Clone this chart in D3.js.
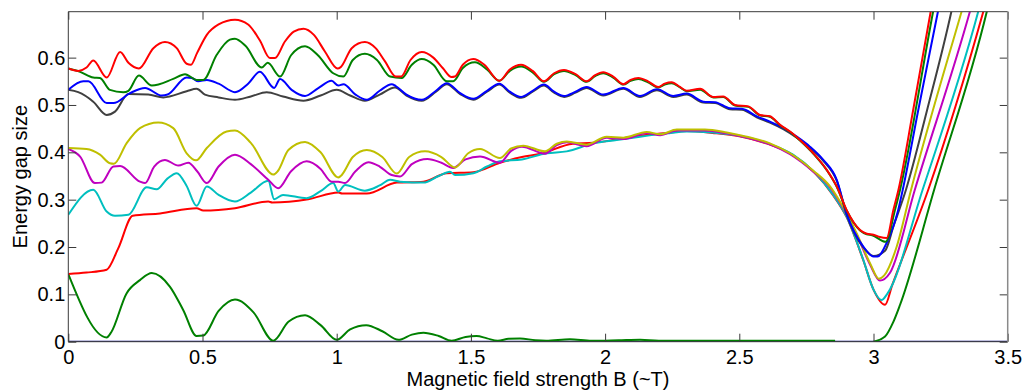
<!DOCTYPE html>
<html><head><meta charset="utf-8">
<script src="https://cdn.jsdelivr.net/npm/d3@7"></script>
<style>
html,body{margin:0;padding:0;background:#fff;}
svg{display:block;}
text{font-family:"Liberation Sans",Arial,sans-serif;}
</style></head>
<body>
<svg id="chart" width="1025" height="392"></svg>
<script>
// ---------- data ----------
const xTicks = [0, 0.5, 1, 1.5, 2, 2.5, 3, 3.5];
const xTickLabels = ["0", "0.5", "1", "1.5", "2", "2.5", "3", "3.5"];
const yTicks = [0, 0.1, 0.2, 0.3, 0.4, 0.5, 0.6];
const yTickLabels = ["0", "0.1", "0.2", "0.3", "0.4", "0.5", "0.6"];
const xLabel = "Magnetic field strength B (~T)";
const yLabel = "Energy gap size";

const redUpper = [[0,0.577],[0.037,0.572],[0.068,0.579],[0.093,0.594],[0.143,0.558],[0.193,0.612],[0.224,0.589],[0.263,0.577],[0.317,0.620],[0.36,0.633],[0.404,0.620],[0.441,0.587],[0.457,0.585],[0.48,0.61],[0.516,0.648],[0.56,0.670],[0.621,0.680],[0.67,0.670],[0.714,0.636],[0.751,0.599],[0.77,0.599],[0.807,0.634],[0.84,0.655],[0.876,0.661],[0.915,0.648],[0.956,0.613],[1.003,0.577],[1.015,0.58],[1.056,0.620],[1.105,0.633],[1.145,0.62],[1.18,0.592],[1.22,0.560],[1.24,0.560],[1.275,0.595],[1.317,0.612],[1.36,0.60],[1.395,0.578],[1.428,0.559],[1.44,0.560],[1.47,0.585],[1.509,0.597],[1.55,0.585],[1.606,0.551],[1.645,0.575],[1.687,0.585],[1.73,0.572],[1.772,0.550],[1.81,0.567],[1.847,0.574],[1.89,0.565],[1.931,0.550],[1.963,0.563],[1.993,0.569],[2.03,0.56],[2.068,0.544],[2.095,0.553],[2.124,0.557],[2.16,0.55],[2.198,0.538],[2.222,0.545],[2.248,0.548],[2.279,0.538],[2.304,0.530],[2.354,0.534],[2.403,0.517],[2.44,0.518],[2.484,0.500],[2.534,0.497],[2.577,0.479],[2.614,0.476],[2.652,0.458],[2.689,0.444],[2.726,0.426],[2.776,0.398],[2.826,0.363],[2.863,0.328],[2.9,0.278],[2.95,0.236],[2.975,0.228],[3.0,0.226],[3.024,0.221],[3.049,0.219],[3.074,0.278],[3.093,0.321],[3.148,0.49],[3.213,0.697],[3.23,0.75]];

const greenUpper = [[0,0.577],[0.044,0.570],[0.093,0.558],[0.118,0.557],[0.155,0.532],[0.205,0.527],[0.224,0.53],[0.263,0.562],[0.311,0.541],[0.391,0.555],[0.435,0.565],[0.478,0.553],[0.503,0.553],[0.553,0.606],[0.602,0.638],[0.621,0.640],[0.66,0.625],[0.721,0.579],[0.743,0.589],[0.789,0.560],[0.83,0.605],[0.882,0.624],[0.93,0.605],[0.987,0.567],[1.025,0.560],[1.06,0.595],[1.105,0.608],[1.15,0.595],[1.199,0.560],[1.242,0.557],[1.28,0.585],[1.317,0.597],[1.36,0.585],[1.41,0.550],[1.434,0.550],[1.47,0.578],[1.515,0.590],[1.56,0.575],[1.606,0.551],[1.645,0.572],[1.687,0.581],[1.73,0.569],[1.772,0.549],[1.81,0.565],[1.847,0.572],[1.89,0.563],[1.931,0.549],[1.963,0.561],[1.993,0.567],[2.03,0.558],[2.068,0.543],[2.095,0.551],[2.124,0.555],[2.16,0.548],[2.198,0.537],[2.222,0.543],[2.248,0.546],[2.279,0.537],[2.304,0.529],[2.354,0.532],[2.403,0.516],[2.44,0.517],[2.484,0.499],[2.534,0.496],[2.577,0.478],[2.614,0.475],[2.652,0.457],[2.689,0.443],[2.726,0.425],[2.776,0.397],[2.826,0.362],[2.863,0.327],[2.9,0.277],[2.95,0.235],[2.975,0.227],[2.995,0.225],[3.045,0.211],[3.08,0.278],[3.099,0.321],[3.222,0.697],[3.24,0.75]];

const blueUpper = [[0,0.532],[0.056,0.550],[0.075,0.55],[0.143,0.504],[0.168,0.504],[0.23,0.525],[0.286,0.536],[0.348,0.520],[0.37,0.522],[0.441,0.558],[0.46,0.557],[0.484,0.550],[0.516,0.553],[0.56,0.545],[0.621,0.527],[0.67,0.545],[0.714,0.570],[0.767,0.536],[0.789,0.555],[0.832,0.532],[0.882,0.519],[0.93,0.535],[0.981,0.551],[1.006,0.541],[1.025,0.544],[1.07,0.522],[1.112,0.511],[1.16,0.53],[1.205,0.544],[1.22,0.54],[1.26,0.522],[1.317,0.511],[1.37,0.53],[1.41,0.546],[1.46,0.525],[1.509,0.513],[1.56,0.53],[1.606,0.545],[1.645,0.528],[1.687,0.517],[1.73,0.53],[1.772,0.543],[1.81,0.528],[1.847,0.519],[1.89,0.528],[1.931,0.538],[1.993,0.522],[2.068,0.536],[2.13,0.519],[2.193,0.533],[2.254,0.519],[2.304,0.524],[2.366,0.507],[2.41,0.506],[2.465,0.493],[2.51,0.492],[2.565,0.476],[2.614,0.465],[2.664,0.451],[2.714,0.433],[2.763,0.412],[2.813,0.384],[2.863,0.342],[2.9,0.27],[2.962,0.201],[3.0,0.18],[3.015,0.18],[3.05,0.21],[3.092,0.278],[3.109,0.321],[3.167,0.49],[3.24,0.697],[3.26,0.754]];

const grayUpper = [[0,0.532],[0.037,0.527],[0.093,0.507],[0.143,0.479],[0.174,0.486],[0.224,0.523],[0.298,0.522],[0.354,0.516],[0.441,0.529],[0.478,0.534],[0.509,0.522],[0.56,0.516],[0.621,0.511],[0.68,0.518],[0.739,0.527],[0.8,0.518],[0.876,0.509],[0.94,0.52],[1.0,0.532],[1.05,0.52],[1.105,0.509],[1.16,0.522],[1.217,0.537],[1.26,0.52],[1.317,0.509],[1.37,0.528],[1.41,0.544],[1.46,0.523],[1.509,0.511],[1.56,0.528],[1.606,0.543],[1.645,0.526],[1.687,0.515],[1.73,0.528],[1.772,0.541],[1.81,0.526],[1.847,0.517],[1.89,0.526],[1.931,0.536],[1.993,0.52],[2.068,0.534],[2.13,0.517],[2.193,0.531],[2.254,0.517],[2.304,0.522],[2.366,0.505],[2.41,0.504],[2.465,0.491],[2.51,0.49],[2.565,0.474],[2.614,0.463],[2.664,0.449],[2.714,0.431],[2.763,0.41],[2.813,0.382],[2.863,0.34],[2.9,0.268],[2.962,0.199],[3.0,0.181],[3.043,0.192],[3.075,0.245],[3.121,0.321],[3.2,0.49],[3.29,0.697],[3.31,0.75]];

const yellowLower = [[0,0.409],[0.068,0.407],[0.118,0.395],[0.155,0.377],[0.17,0.376],[0.217,0.419],[0.267,0.451],[0.335,0.463],[0.391,0.451],[0.441,0.398],[0.476,0.383],[0.516,0.409],[0.59,0.444],[0.621,0.446],[0.68,0.42],[0.764,0.353],[0.78,0.36],[0.82,0.405],[0.882,0.422],[0.94,0.4],[1.006,0.347],[1.015,0.35],[1.06,0.39],[1.112,0.405],[1.17,0.39],[1.224,0.355],[1.27,0.39],[1.329,0.402],[1.39,0.39],[1.441,0.368],[1.49,0.398],[1.534,0.407],[1.608,0.388],[1.65,0.408],[1.695,0.414],[1.776,0.402],[1.82,0.418],[1.857,0.423],[1.931,0.416],[2.006,0.433],[2.068,0.431],[2.155,0.443],[2.205,0.438],[2.267,0.448],[2.372,0.448],[2.453,0.442],[2.528,0.433],[2.614,0.419],[2.689,0.398],[2.776,0.361],[2.838,0.328],[2.875,0.296],[2.937,0.229],[2.987,0.166],[3.02,0.133],[3.04,0.14],[3.086,0.2],[3.14,0.321],[3.328,0.697],[3.35,0.74]];

const magentaLower = [[0,0.407],[0.044,0.391],[0.099,0.335],[0.124,0.336],[0.168,0.370],[0.193,0.371],[0.267,0.338],[0.286,0.335],[0.32,0.37],[0.36,0.384],[0.41,0.372],[0.447,0.378],[0.48,0.36],[0.516,0.335],[0.56,0.37],[0.621,0.395],[0.68,0.375],[0.745,0.342],[0.782,0.324],[0.83,0.36],[0.888,0.381],[0.94,0.365],[0.981,0.338],[1.006,0.338],[1.031,0.335],[1.07,0.36],[1.118,0.379],[1.16,0.37],[1.205,0.352],[1.236,0.349],[1.28,0.375],[1.338,0.386],[1.39,0.378],[1.434,0.367],[1.48,0.385],[1.534,0.391],[1.608,0.378],[1.65,0.403],[1.69,0.412],[1.776,0.397],[1.82,0.415],[1.857,0.421],[1.931,0.413],[2.006,0.431],[2.068,0.428],[2.155,0.441],[2.205,0.436],[2.267,0.446],[2.372,0.446],[2.453,0.44],[2.528,0.431],[2.614,0.417],[2.689,0.396],[2.776,0.359],[2.838,0.326],[2.875,0.294],[2.937,0.227],[2.987,0.163],[3.024,0.129],[3.061,0.145],[3.154,0.321],[3.359,0.697],[3.38,0.74]];

const cyanLower = [[0,0.268],[0.093,0.321],[0.143,0.275],[0.174,0.266],[0.224,0.268],[0.292,0.326],[0.329,0.322],[0.37,0.345],[0.404,0.356],[0.44,0.33],[0.478,0.287],[0.516,0.328],[0.56,0.31],[0.621,0.296],[0.68,0.315],[0.745,0.340],[0.767,0.301],[0.8,0.31],[0.888,0.303],[0.94,0.318],[0.987,0.335],[1.006,0.317],[1.031,0.331],[1.105,0.319],[1.16,0.33],[1.199,0.342],[1.236,0.338],[1.323,0.336],[1.38,0.35],[1.422,0.359],[1.441,0.352],[1.509,0.356],[1.56,0.37],[1.608,0.381],[1.69,0.385],[1.782,0.398],[1.857,0.402],[1.956,0.419],[2.043,0.426],[2.13,0.433],[2.23,0.44],[2.304,0.444],[2.4,0.442],[2.5,0.435],[2.6,0.42],[2.7,0.395],[2.78,0.358],[2.85,0.31],[2.9,0.264],[2.962,0.173],[3.0,0.11],[3.03,0.088],[3.05,0.1],[3.183,0.321],[3.39,0.697],[3.41,0.74]];

const redLower = [[0,0.143],[0.068,0.146],[0.143,0.152],[0.186,0.197],[0.24,0.266],[0.342,0.271],[0.478,0.282],[0.503,0.277],[0.621,0.282],[0.745,0.296],[0.76,0.294],[0.894,0.301],[1.006,0.315],[1.02,0.313],[1.112,0.313],[1.224,0.336],[1.323,0.338],[1.41,0.356],[1.509,0.358],[1.608,0.378],[1.69,0.39],[1.76,0.397],[1.88,0.418],[1.956,0.42],[2.05,0.428],[2.13,0.435],[2.23,0.441],[2.304,0.445],[2.4,0.441],[2.5,0.434],[2.6,0.419],[2.7,0.394],[2.78,0.357],[2.85,0.309],[2.9,0.263],[2.962,0.172],[3.0,0.11],[3.043,0.078],[3.07,0.12],[3.204,0.321],[3.409,0.697],[3.43,0.74]];

const greenBottom = [[0,0.143],[0.143,0.009],[0.16,0.02],[0.217,0.102],[0.267,0.13],[0.311,0.145],[0.379,0.116],[0.428,0.067],[0.478,0.012],[0.503,0.013],[0.56,0.065],[0.621,0.089],[0.69,0.062],[0.764,0.002],[0.82,0.042],[0.882,0.056],[0.94,0.035],[1.0,0.004],[1.05,0.026],[1.11,0.035],[1.17,0.022],[1.23,0.004],[1.28,0.015],[1.323,0.019],[1.38,0.012],[1.428,0.002],[1.48,0.01],[1.521,0.012],[1.56,0.007],[1.6,0.002],[1.64,0.006],[1.683,0.007],[1.74,0.003],[1.78,0.002],[1.869,0.005],[1.95,0.002],[2.05,0.003],[2.13,0.004],[2.2,0.002],[2.5,0.002],[2.857,0.002],[2.9,null],[3.0,0],[3.043,0.011],[3.074,0.042],[3.099,0.078],[3.226,0.321],[3.422,0.697],[3.44,0.74]];

const zeroLine = [[0,0],[3.5,0]];

const seriesList = [
  {name:"zero", data: zeroLine, color:"#000080"},
  {name:"greenBottom", data: greenBottom, color:"#008000"},
  {name:"redLower", data: redLower, color:"#ff0000"},
  {name:"cyanLower", data: cyanLower, color:"#00bfbf"},
  {name:"magentaLower", data: magentaLower, color:"#bf00bf"},
  {name:"yellowLower", data: yellowLower, color:"#bfbf00"},
  {name:"grayUpper", data: grayUpper, color:"#404040"},
  {name:"blueUpper", data: blueUpper, color:"#0000ff"},
  {name:"greenUpper", data: greenUpper, color:"#008000"},
  {name:"redUpper", data: redUpper, color:"#ff0000"}
];

// ---------- layout ----------
const svg = d3.select("#chart");
const L = 68.3, R = 1007.7, T = 11.7, B = 341.7;
const x = d3.scaleLinear().domain([0, 3.5]).range([L, R]);
const y = d3.scaleLinear().domain([0, 0.697]).range([B, T]);

svg.append("defs").append("clipPath").attr("id","plotclip")
  .append("rect").attr("x",L).attr("y",T).attr("width",R-L).attr("height",B-T);

const line = d3.line()
  .defined(d => d[1] !== null)
  .x(d => x(d[0])).y(d => y(d[1]))
  .curve(d3.curveMonotoneX);

const g = svg.append("g").attr("clip-path","url(#plotclip)");
seriesList.forEach(s => {
  g.append("path").datum(s.data)
    .attr("d", line)
    .attr("fill","none")
    .attr("stroke", s.color)
    .attr("stroke-width", 2)
    .attr("stroke-linejoin","round");
});

// axes
const frameColor = "#3a3a3a";
const fontSize = 20;
const xAxis = d3.axisBottom(x).tickValues(xTicks)
  .tickFormat((d,i) => xTickLabels[i]).tickSizeInner(-8).tickSizeOuter(0).tickPadding(8);
const gx = svg.append("g").attr("transform",`translate(0,${B})`).call(xAxis);
const yAxis = d3.axisLeft(y).tickValues(yTicks)
  .tickFormat((d,i) => yTickLabels[i]).tickSizeInner(-8).tickSizeOuter(0).tickPadding(3);
const gy = svg.append("g").attr("transform",`translate(${L},0)`).call(yAxis);
const xTop = d3.axisTop(x).tickValues(xTicks).tickFormat("").tickSizeInner(-8).tickSizeOuter(0);
const gxt = svg.append("g").attr("transform",`translate(0,${T})`).call(xTop);
const yRight = d3.axisRight(y).tickValues(yTicks).tickFormat("").tickSizeInner(-8).tickSizeOuter(0);
const gyr = svg.append("g").attr("transform",`translate(${R},0)`).call(yRight);

[gx, gy, gxt, gyr].forEach(a => {
  a.select(".domain").remove();
  a.selectAll(".tick line").attr("stroke", frameColor).attr("stroke-width",1);
  a.selectAll(".tick text").attr("fill","#000").attr("font-size",fontSize)
    .attr("font-family",'"Liberation Sans",Arial,sans-serif');
});

// frame
svg.append("path")
  .attr("d", `M${L},${B}H${R}M${L},${B}V${T}H${R}`)
  .attr("fill","none").attr("stroke",frameColor).attr("stroke-width",1);
svg.append("line").attr("x1",R).attr("x2",R).attr("y1",T).attr("y2",B)
  .attr("stroke","#8a8a8a").attr("stroke-width",1.5);

// labels
svg.append("text").attr("x",(L+R)/2).attr("y",385.5)
  .attr("text-anchor","middle").attr("font-size",fontSize).attr("fill","#000")
  .text(xLabel);
svg.append("text").attr("transform",`translate(27,${(T+B)/2}) rotate(-90)`)
  .attr("text-anchor","middle").attr("font-size",fontSize).attr("fill","#000")
  .text(yLabel);
</script>
</body></html>
